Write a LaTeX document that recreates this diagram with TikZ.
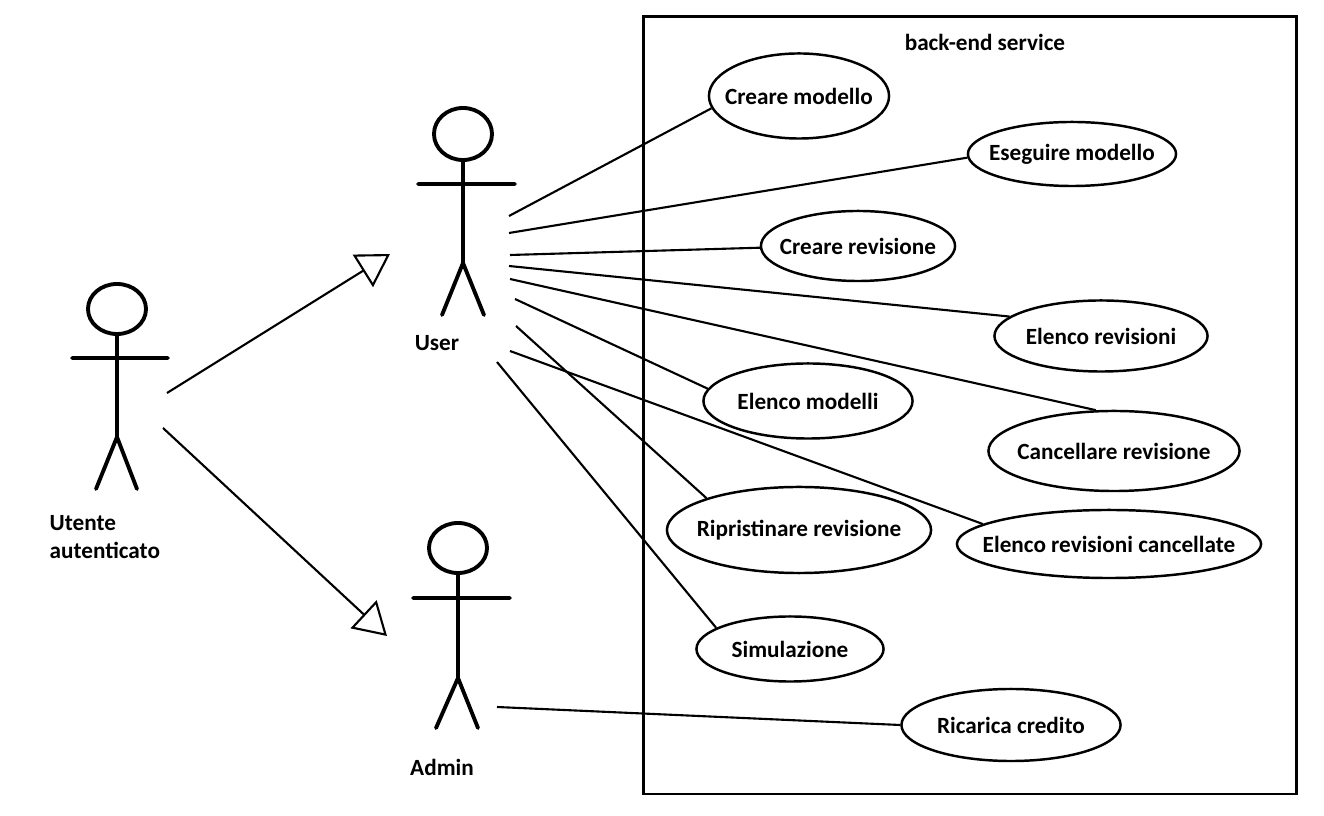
\documentclass[tikz,border=0pt]{standalone}
\usepackage{fontspec}
\setmainfont{Carlito}
\usetikzlibrary{arrows.meta,shapes.geometric}
\tikzset{
	usecase/.style={ellipse, draw, line width=0.7pt, inner sep=0pt, font=\bfseries\fontsize{6.6}{8}\selectfont},
	actorline/.style={line width=1.1pt, line cap=round},
	assoc/.style={line width=0.6pt},
	generalize/.style={line width=0.6pt, -{Triangle[open, length=0.32cm, width=0.38cm, line width=0.6pt]}},
	lbl/.style={font=\bfseries\fontsize{6.6}{8.2}\selectfont, inner sep=0pt}
}

\begin{document}
\begin{tikzpicture}[x=0.01cm, y=-0.01cm]
	\useasboundingbox (0,0) rectangle (1324,816);
	\draw[line width=0.85pt] (643,17) rectangle (1296,794);
	\node[lbl] (system) at (985,42) {back-end service};

	\draw[actorline] (117,309) circle [x radius=0.29cm, y radius=0.25cm];
	\draw[actorline] (117,334) -- (117,437) (72,358) -- (168,358) (96,489) -- (117,437) -- (137,489);
	\node[lbl, anchor=west, align=left] (utente) at (49,537) {Utente\\autenticato};

	\draw[actorline] (463,134) circle [x radius=0.29cm, y radius=0.26cm];
	\draw[actorline] (463,160) -- (463,263) (418,184) -- (515,184) (442,315) -- (463,263) -- (484,315);
	\node[lbl] (user) at (437,343) {User};

	\draw[actorline] (458,548) circle [x radius=0.29cm, y radius=0.25cm];
	\draw[actorline] (458,573) -- (458,678) (413,598) -- (510,598) (436,728) -- (458,678) -- (478,728);
	\node[lbl] (admin) at (442,767) {Admin};

	\coordinate (gen1) at (167,393);
	\coordinate (gen2) at (163,428);
	\coordinate (usertip) at (390,254);
	\coordinate (admintip) at (387,636);
	\draw[generalize] (gen1) -- (usertip);
	\draw[generalize] (gen2) -- (admintip);

	\node[usecase, minimum width=1.80cm, minimum height=0.85cm] (cremod) at (799,96) {\makebox[0pt]{Creare modello}};
	\node[usecase, minimum width=2.08cm, minimum height=0.64cm] (esemod) at (1072,154) {\makebox[0pt]{Eseguire modello}};
	\node[usecase, minimum width=1.94cm, minimum height=0.70cm] (crerev) at (858,246) {\makebox[0pt]{Creare revisione}};
	\node[usecase, minimum width=2.13cm, minimum height=0.71cm] (elrev) at (1101,336) {\makebox[0pt]{Elenco revisioni}};
	\node[usecase, minimum width=2.09cm, minimum height=0.75cm] (elmod) at (808,401) {\makebox[0pt]{Elenco modelli}};
	\node[usecase, minimum width=2.51cm, minimum height=0.80cm] (canrev) at (1114,451) {\makebox[0pt]{Cancellare revisione}};
	\node[usecase, minimum width=2.64cm, minimum height=0.86cm] (riprev) at (799,530) {\makebox[0pt]{Ripristinare revisione}};
	\node[usecase, minimum width=3.04cm, minimum height=0.68cm] (elrevcanc) at (1109,544) {\makebox[0pt]{Elenco revisioni cancellate}};
	\node[usecase, minimum width=1.87cm, minimum height=0.65cm] (simul) at (790,649) {\makebox[0pt]{Simulazione}};
	\node[usecase, minimum width=2.19cm, minimum height=0.72cm] (ricarica) at (1011,725) {\makebox[0pt]{Ricarica credito}};

	\coordinate (u1) at (509,216);
	\coordinate (u2) at (509,233);
	\coordinate (u3) at (510,255);
	\coordinate (u4) at (509,266);
	\coordinate (u5) at (510,279);
	\coordinate (u6) at (515,299);
	\coordinate (u7) at (516,326);
	\coordinate (u8) at (510,351);
	\coordinate (u9) at (497,362);
	\coordinate (a1) at (497,707);

	\draw[assoc] (u1) -- (cremod.188);
	\draw[assoc] (u2) -- (esemod.182);
	\draw[assoc] (u3) -- (crerev.181);
	\draw[assoc] (u4) -- (elrev.168);
	\draw[assoc] (u5) -- (canrev.114);
	\draw[assoc] (u6) -- (elmod.173);
	\draw[assoc] (u7) -- (riprev.161);
	\draw[assoc] (u8) -- (elrevcanc.171);
	\draw[assoc] (u9) -- (simul.164);
	\draw[assoc] (a1) -- (ricarica.180);
\end{tikzpicture}
\end{document}
